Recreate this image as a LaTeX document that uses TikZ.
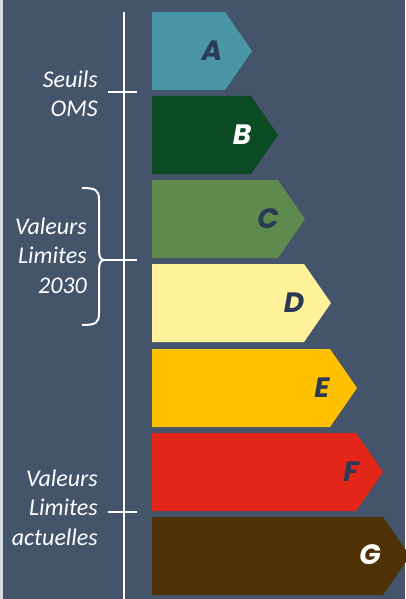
\documentclass[tikz,border=0pt]{standalone}
\usepackage{fontspec}
\newfontfamily\labfont{Carlito}
\newfontfamily\letfont{Poppins}
\definecolor{bg}{HTML}{44546A}
\definecolor{strip}{HTML}{D6DCE4}
\definecolor{cA}{HTML}{4A96A6}
\definecolor{cB}{HTML}{0B4A22}
\definecolor{cC}{HTML}{5E8A4E}
\definecolor{cD}{HTML}{FFF29A}
\definecolor{cE}{HTML}{FFC000}
\definecolor{cF}{HTML}{E3261A}
\definecolor{cG}{HTML}{4E3206}
\definecolor{ink}{HTML}{2B3A55}
\tikzset{
  axisline/.style={white, line width=2.2pt},
  lbl/.style={text=white, font=\labfont\itshape\fontsize{24}{29.5}\selectfont, align=right, inner sep=0pt, anchor=base east},
  letter/.style={font=\letfont\bfseries\itshape\fontsize{28}{28}\selectfont, inner sep=0pt},
}
\newcommand{\classarrow}[4]{% top, tip x, color, name
  \fill[#3] (152,#1) -- (#2-27,#1) -- (#2,#1+39) -- (#2-27,#1+78) -- (152,#1+78) -- cycle;
  \coordinate (#4) at (152,#1);
}
\begin{document}
\begin{tikzpicture}[x=1pt,y=-1pt]
\useasboundingbox (0,0) rectangle (405,599);
\fill[bg] (0,0) rectangle (405,599);
\fill[strip] (0,0) rectangle (3,599);
% class arrows
\classarrow{12}{252}{cA}{arA}
\classarrow{96}{278}{cB}{arB}
\classarrow{180}{305}{cC}{arC}
\classarrow{264}{331}{cD}{arD}
\classarrow{349}{357}{cE}{arE}
\classarrow{433}{383}{cF}{arF}
\classarrow{517}{410}{cG}{arG}
% letters
\node[letter, text=ink] (lA) at (212,51) {A};
\node[letter, text=white] (lB) at (242,135) {B};
\node[letter, text=ink] (lC) at (268,219) {C};
\node[letter, text=ink] (lD) at (294,303) {D};
\node[letter, text=ink] (lE) at (322,388) {E};
\node[letter, text=ink] (lF) at (351,472) {F};
\node[letter, text=white] (lG) at (370,555) {G};
% axis
\coordinate (axtop) at (124,12);
\coordinate (axbot) at (124,599);
\draw[axisline] (axtop) -- (axbot);
\coordinate (t1a) at (108,92); \coordinate (t1b) at (137,92);
\draw[axisline] (t1a) -- (t1b);
\coordinate (t3a) at (108,512); \coordinate (t3b) at (137,512);
\draw[axisline] (t3a) -- (t3b);
% brace
\coordinate (btip) at (104,260); \coordinate (t2b) at (137,260);
\draw[axisline, line width=2pt] (82,188) .. controls (96,188) and (99,190) .. (99,200) -- (99,250) .. controls (99,257) and (101,260) .. (btip) .. controls (101,260) and (99,263) .. (99,270) -- (99,313) .. controls (99,323) and (96,325) .. (82,325);
\draw[axisline] (btip) -- (t2b);
% labels (anchored at the baseline of the last line)
\node[lbl] (oms) at (98,117) {Seuils\\OMS};
\node[lbl] (v2030) at (87,293) {Valeurs\\Limites\\2030};
\node[lbl] (vact) at (98,545) {Valeurs\\Limites\\actuelles};
\end{tikzpicture}
\end{document}
